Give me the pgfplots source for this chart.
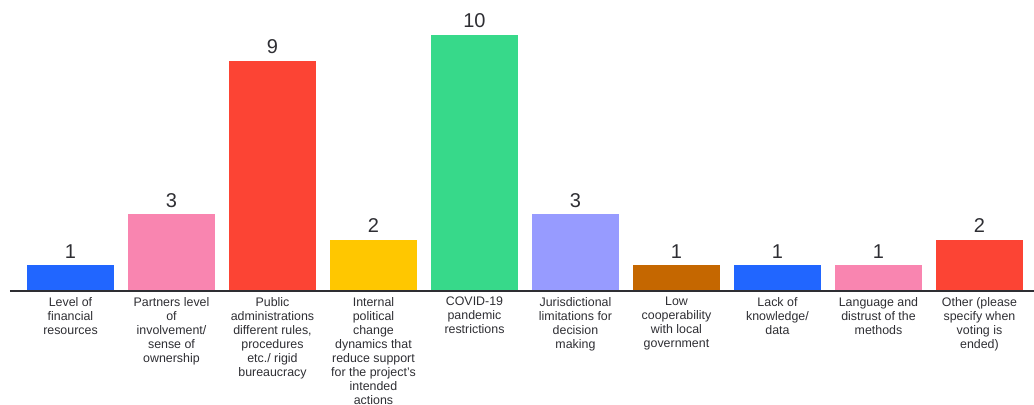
\documentclass[border=0pt]{standalone}
\usepackage{pgfplots}
\pgfplotsset{compat=1.18}
\usepackage{fontspec}
\setmainfont{Liberation Sans}
\definecolor{cBlue}{HTML}{2166FF}
\definecolor{cPink}{HTML}{F985B0}
\definecolor{cRed}{HTML}{FC4434}
\definecolor{cYellow}{HTML}{FFC700}
\definecolor{cGreen}{HTML}{37D98A}
\definecolor{cLav}{HTML}{979BFF}
\definecolor{cBrown}{HTML}{C56700}
\definecolor{cText}{HTML}{2E2E33}
\begin{document}
\begin{tikzpicture}
\begin{axis}[
  scale only axis,
  width=768pt, height=218.25pt,
  xmin=-0.599, xmax=9.540,
  ymin=0, ymax=11.367,
  axis x line*=bottom,
  axis y line=none,
  axis line style={line width=1.5pt, color=cText},
  axis on top,
  clip=false,
  xtick={0,...,9},
  major tick length=0pt,
  xticklabels={
    {Level of\\financial\\resources},
    {Partners level\\of\\involvement/\\sense of\\ownership},
    {Public\\administrations\\different rules,\\procedures\\etc./ rigid\\bureaucracy},
    {Internal\\political\\change\\dynamics that\\reduce support\\for the project's\\intended\\actions},
    {COVID-19\\pandemic\\restrictions},
    {Jurisdictional\\limitations for\\decision\\making},
    {Low\\cooperability\\with local\\government},
    {Lack of\\knowledge/\\data},
    {Language and\\distrust of the\\methods},
    {Other (please\\specify when\\voting is\\ended)}},
  xticklabel style={align=center, font=\fontsize{9.3pt}{10.5pt}\selectfont, text=cText, anchor=north, yshift=-1pt},
  ytick=\empty,
  ybar, bar width=0.861, bar shift=0pt,
  nodes near coords,
  every node near coord/.append style={font=\fontsize{15pt}{16pt}\selectfont, text=cText, anchor=south, inner sep=0pt, yshift=5pt, /pgf/number format/assume math mode=true},
]
\addplot[fill=cBlue, draw=none] coordinates {(0,1)};
\addplot[fill=cPink, draw=none] coordinates {(1,3)};
\addplot[fill=cRed, draw=none] coordinates {(2,9)};
\addplot[fill=cYellow, draw=none] coordinates {(3,2)};
\addplot[fill=cGreen, draw=none] coordinates {(4,10)};
\addplot[fill=cLav, draw=none] coordinates {(5,3)};
\addplot[fill=cBrown, draw=none] coordinates {(6,1)};
\addplot[fill=cBlue, draw=none] coordinates {(7,1)};
\addplot[fill=cPink, draw=none] coordinates {(8,1)};
\addplot[fill=cRed, draw=none] coordinates {(9,2)};
\coordinate (BL) at (axis cs:-0.698,-4.453);
\coordinate (TR) at (axis cs:9.540,11.367);
\end{axis}
\pgfresetboundingbox
\path[use as bounding box] (BL) rectangle (TR);
\end{tikzpicture}
\end{document}
